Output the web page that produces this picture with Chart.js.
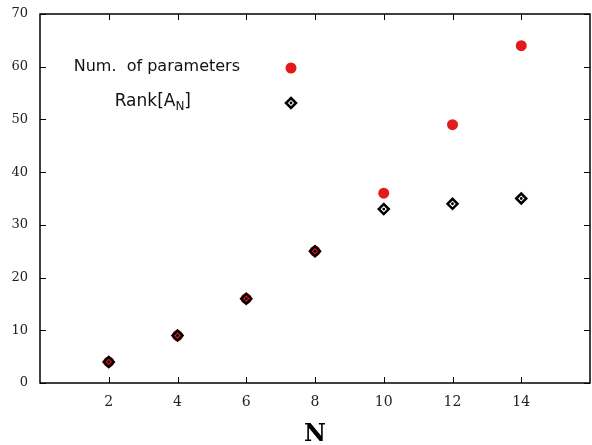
<!DOCTYPE html>
<html>
<head>
<meta charset="utf-8">
<script src="https://cdn.jsdelivr.net/npm/chart.js@4"></script>
<style>
  html, body { margin: 0; padding: 0; background: #fff; }
  #wrap { width: 592px; height: 445px; }
</style>
</head>
<body>
<div id="wrap"><canvas id="myChart" width="592" height="445"></canvas></div>
<script>
'use strict';

// values
const nValues = [2, 4, 6, 8, 10, 12, 14];
const numParams = [4, 9, 16, 25, 36, 49, 64];
const rankAN = [4, 9, 16, 25, 33, 34, 35];
const xTicks = [2, 4, 6, 8, 10, 12, 14];
const yTicks = [0, 10, 20, 30, 40, 50, 60, 70];

const red = 'rgb(226, 26, 28)';

function toPoints(ys) {
  return nValues.map((x, i) => ({ x: x, y: ys[i] }));
}

// frame with inward ticks on all four sides
const framePlugin = {
  id: 'frame',
  afterDraw(chart) {
    const ctx = chart.ctx;
    const a = chart.chartArea;
    const xs = chart.scales.x, ys = chart.scales.y;
    ctx.save();
    ctx.strokeStyle = '#000';
    ctx.lineWidth = 1.5;
    ctx.strokeRect(a.left, a.top, a.right - a.left, a.bottom - a.top);
    ctx.lineWidth = 1;
    ctx.beginPath();
    xTicks.forEach(v => {
      const px = Math.round(xs.getPixelForValue(v)) + 0.5;
      ctx.moveTo(px, a.bottom); ctx.lineTo(px, a.bottom - 6);
      ctx.moveTo(px, a.top); ctx.lineTo(px, a.top + 6);
    });
    yTicks.forEach(v => {
      const py = Math.round(ys.getPixelForValue(v)) + 0.5;
      ctx.moveTo(a.left, py); ctx.lineTo(a.left + 6, py);
      ctx.moveTo(a.right, py); ctx.lineTo(a.right - 6, py);
    });
    ctx.stroke();
    ctx.restore();
  }
};

// gnuplot style key inside the plot
const keyPlugin = {
  id: 'key',
  afterDraw(chart) {
    const ctx = chart.ctx;
    const a = chart.chartArea;
    const mx = a.left + 251;
    ctx.save();
    ctx.fillStyle = '#111';
    ctx.font = '16px "DejaVu Sans"';
    ctx.textAlign = 'right';
    ctx.textBaseline = 'middle';
    ctx.fillText('Num.  of parameters', a.left + 200, a.top + 53);

    // Rank[A_N] with subscript
    const y2 = a.top + 88;
    const right = a.left + 151;
    ctx.font = '17px "DejaVu Sans"';
    const wClose = ctx.measureText(']').width;
    ctx.font = '12px "DejaVu Sans"';
    const wSub = ctx.measureText('N').width;
    ctx.textAlign = 'left';
    ctx.font = '17px "DejaVu Sans"';
    const wMain = ctx.measureText('Rank[A').width;
    let x0 = right - wClose - wSub - wMain;
    ctx.fillText('Rank[A', x0, y2);
    ctx.font = '12px "DejaVu Sans"';
    ctx.fillText('N', x0 + wMain, y2 + 5);
    ctx.font = '17px "DejaVu Sans"';
    ctx.fillText(']', x0 + wMain + wSub, y2);

    // sample markers
    ctx.fillStyle = red;
    ctx.beginPath();
    ctx.arc(mx, a.top + 54, 5.5, 0, Math.PI * 2);
    ctx.fill();
    ctx.strokeStyle = '#000';
    ctx.lineWidth = 2.5;
    ctx.beginPath();
    ctx.moveTo(mx, y2 + 1 - 5); ctx.lineTo(mx + 5, y2 + 1);
    ctx.lineTo(mx, y2 + 1 + 5); ctx.lineTo(mx - 5, y2 + 1);
    ctx.closePath();
    ctx.stroke();
    ctx.fillStyle = '#000';
    ctx.beginPath();
    ctx.arc(mx, y2 + 1, 1.4, 0, Math.PI * 2);
    ctx.fill();
    ctx.restore();
  }
};

const tickFont = { family: '"DejaVu Serif"', size: 14 };

new Chart(document.getElementById('myChart'), {
  type: 'scatter',
  data: {
    datasets: [
      {
        label: 'Num. of parameters',
        data: toPoints(numParams),
        pointStyle: 'circle',
        pointRadius: 5.5,
        pointBorderWidth: 0,
        backgroundColor: red,
        borderColor: red,
        order: 3
      },
      {
        label: 'Rank[A_N]',
        data: toPoints(rankAN),
        pointStyle: 'rectRot',
        pointRadius: 5,
        pointBorderWidth: 2.5,
        backgroundColor: 'rgba(0,0,0,0)',
        borderColor: '#000',
        order: 2
      },
      {
        label: 'centre',
        data: toPoints(rankAN),
        pointStyle: 'circle',
        pointRadius: 1.4,
        pointBorderWidth: 0,
        backgroundColor: '#000',
        borderColor: '#000',
        order: 1
      }
    ]
  },
  options: {
    responsive: false,
    animation: false,
    events: [],
    layout: { autoPadding: false, padding: { left: 0, right: 2, top: 14, bottom: 0 } },
    plugins: {
      legend: { display: false },
      tooltip: { enabled: false }
    },
    scales: {
      x: {
        type: 'linear',
        min: 0,
        max: 16,
        afterBuildTicks: s => { s.ticks = xTicks.map(v => ({ value: v })); },
        afterFit: s => { s.height = 62; s.paddingLeft = 0; s.paddingRight = 0; },
        grid: { display: false, drawTicks: false },
        border: { display: false },
        ticks: { font: tickFont, color: '#222', padding: 11, maxRotation: 0 },
        title: {
          display: true,
          text: 'N',
          color: '#000',
          font: { family: '"DejaVu Serif"', size: 24, weight: 'bold' },
          padding: { top: 0, bottom: -4 }
        }
      },
      y: {
        type: 'linear',
        min: 0,
        max: 70,
        afterBuildTicks: s => { s.ticks = yTicks.map(v => ({ value: v })); },
        afterFit: s => { s.width = 40; s.paddingTop = 0; s.paddingBottom = 0; },
        grid: { display: false, drawTicks: false },
        border: { display: false },
        ticks: { font: { family: '"DejaVu Serif"', size: 13 }, color: '#222', padding: 12 }
      }
    }
  },
  plugins: [framePlugin, keyPlugin]
});
</script>
</body>
</html>
